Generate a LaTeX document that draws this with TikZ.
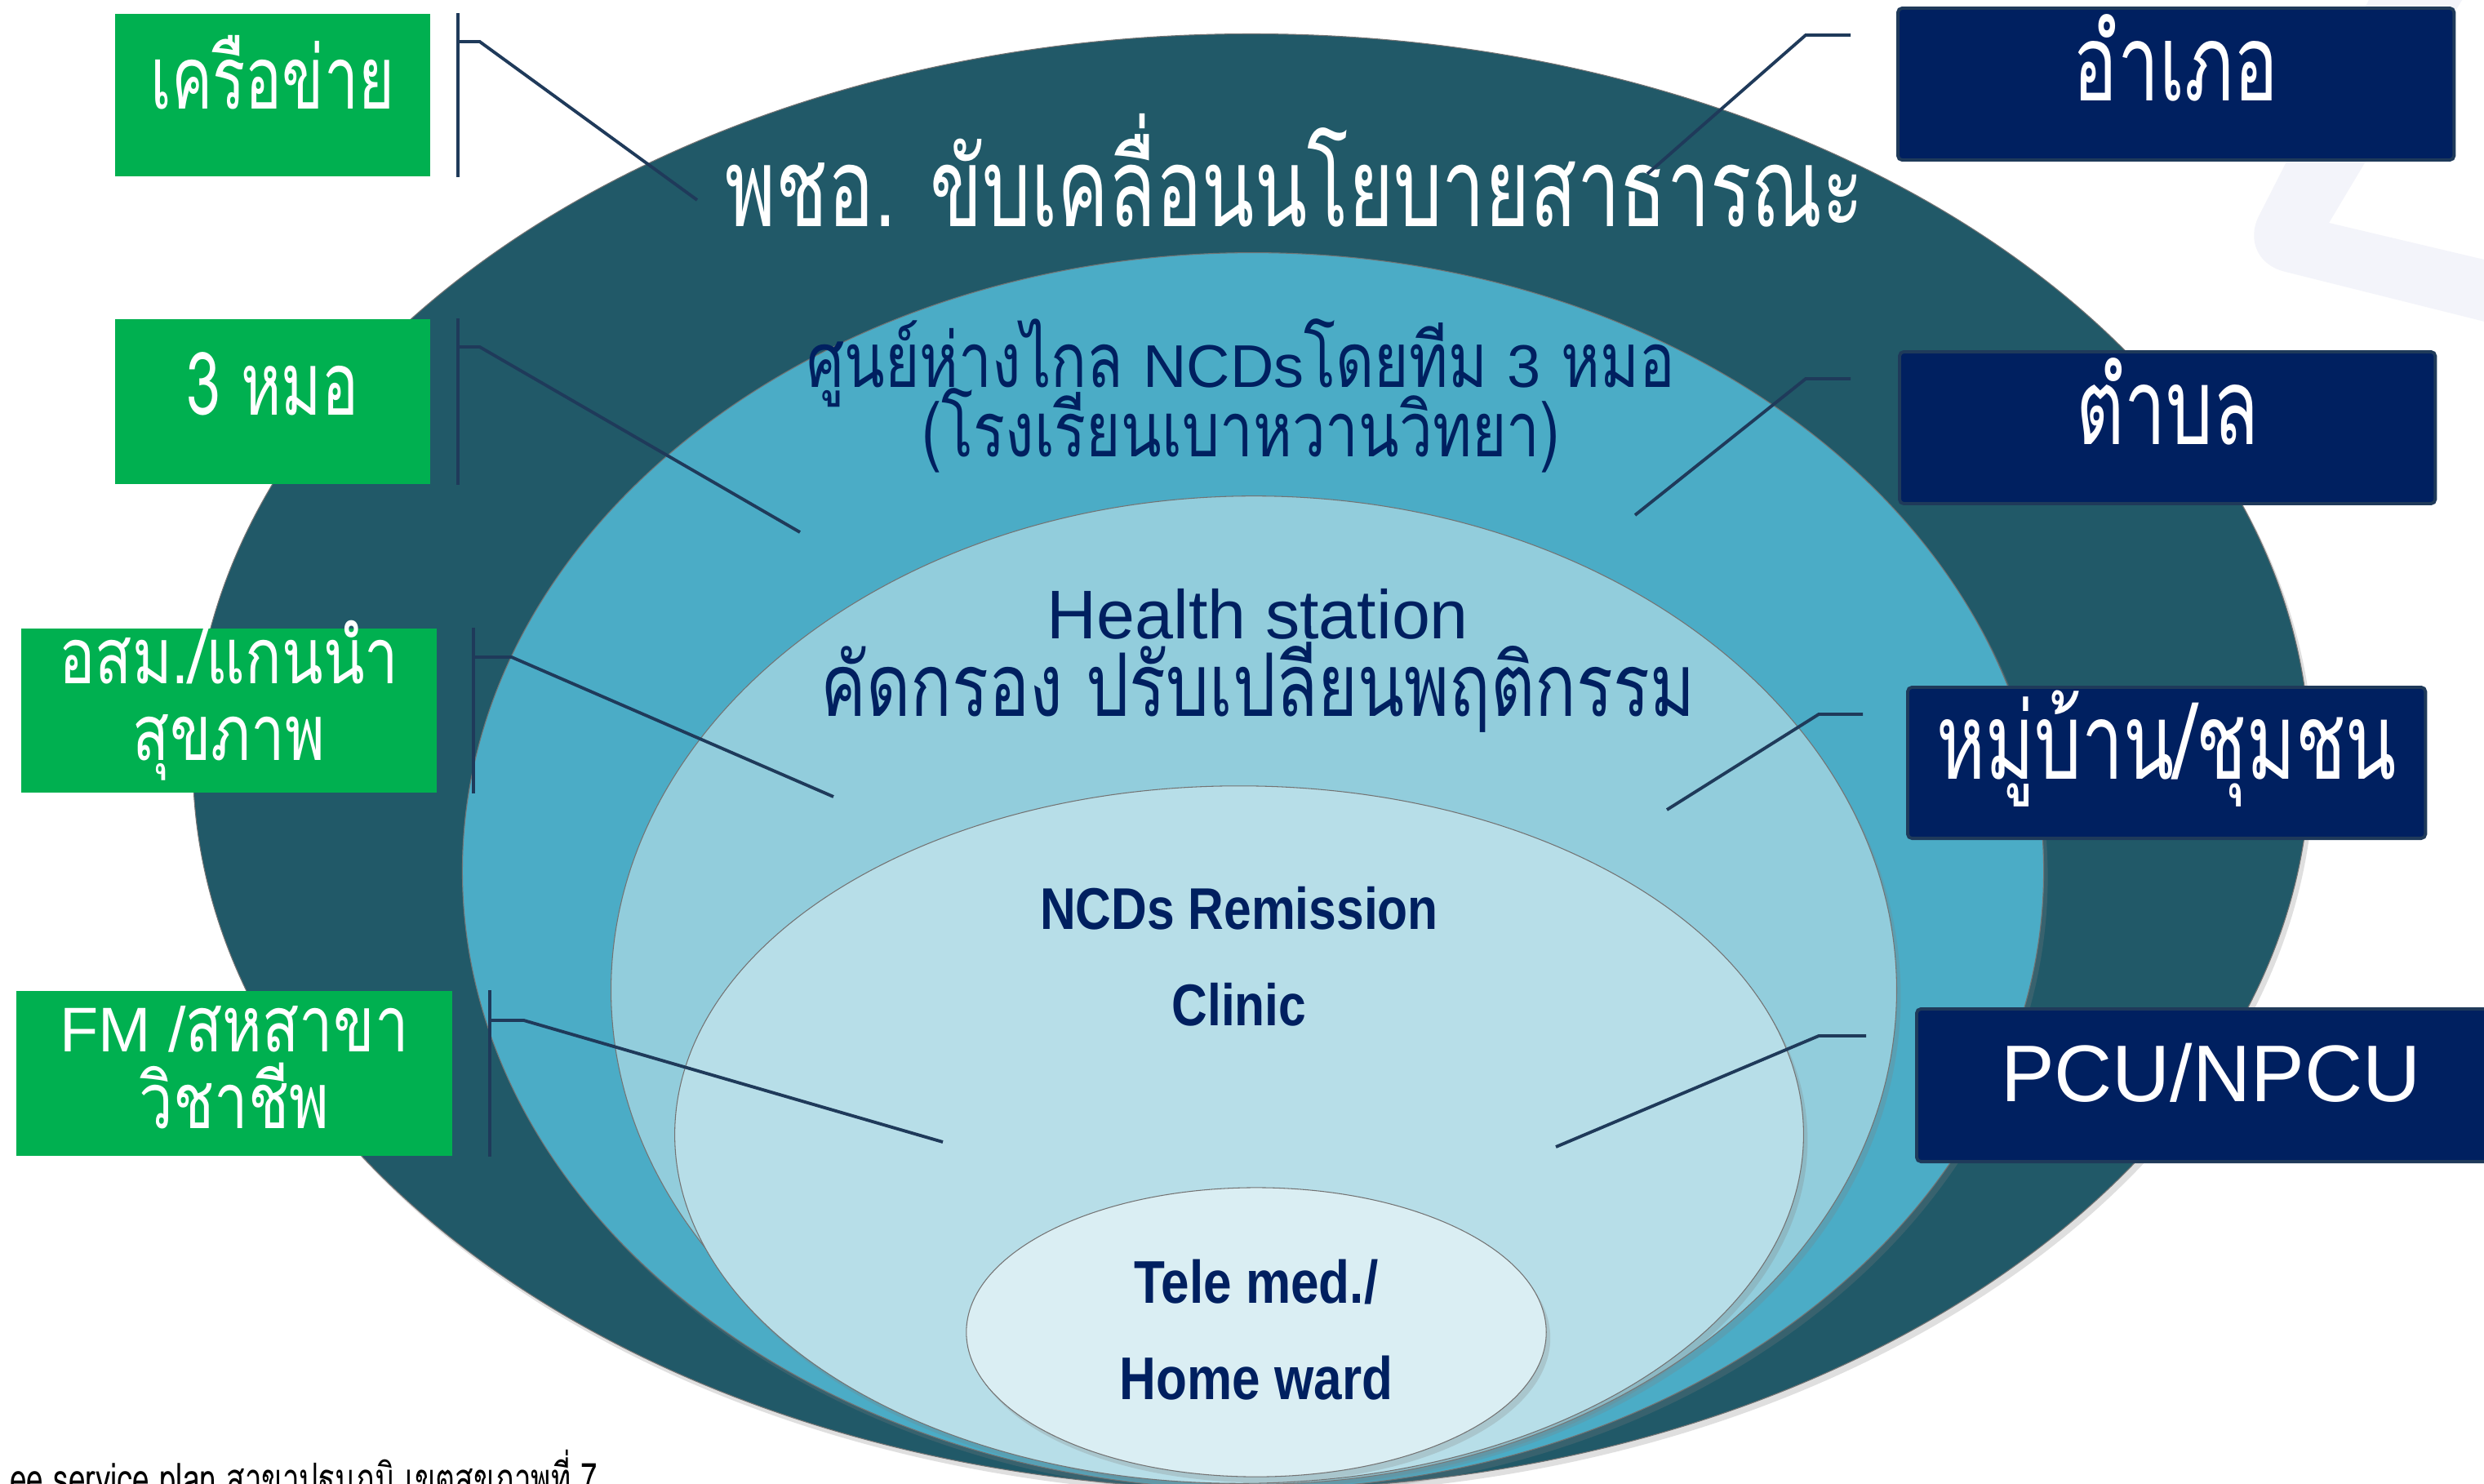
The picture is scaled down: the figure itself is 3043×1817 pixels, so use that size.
\documentclass[tikz,border=0pt]{standalone}
\usepackage{fontspec}
\setmainfont{Liberation Sans}
\newfontfamily\thai[Script=Thai,FakeStretch=0.7]{Loma}
\newfontfamily\thaibody[Script=Thai,FakeStretch=0.78]{Loma}
\newfontfamily\narrow[FakeStretch=0.84]{Liberation Sans}
\usetikzlibrary{shapes.geometric,positioning,shadows}
\setlength{\lineskiplimit}{-100pt}
% latin words inside a thai line
\newcommand\latn[2]{{\normalfont\fontsize{#1}{#1}\selectfont #2}}

\definecolor{deepteal}{HTML}{215968}
\definecolor{aqua}{HTML}{4BACC6}
\definecolor{aqualight}{HTML}{92CDDC}
\definecolor{aquapale}{HTML}{B7DEE8}
\definecolor{aquamist}{HTML}{DAEEF3}
\definecolor{leafgreen}{HTML}{00B050}
\definecolor{navy}{HTML}{002060}
\definecolor{linkblue}{HTML}{1F3A5A}
\definecolor{ghost}{HTML}{F3F4FA}

\tikzstyle{ring} = [ellipse, inner sep=0pt, draw=black!55, line width=0.3pt, drop shadow={opacity=0.25, shadow xshift=0.5mm, shadow yshift=-0.7mm}]
\tikzstyle{tag} = [rectangle, anchor=north west, inner sep=0pt, fill=leafgreen, text=white, align=center, font=\thai\fontsize{30.5pt}{26.7pt}\selectfont]
\tikzstyle{twoline} = [font=\thaibody\fontsize{27pt}{26.7pt}\selectfont]
\tikzstyle{unit} = [rectangle, anchor=north west, inner sep=0pt, fill=navy, draw=linkblue, line width=1.1pt, rounded corners=1.5pt, text=white, text height=0.8cm, text depth=0.4cm, font=\thai\fontsize{37pt}{44pt}\selectfont]
\tikzstyle{oneline} = [text height=0.74cm, text depth=0.4cm]
\tikzstyle{lbl} = [anchor=base, align=center, text=navy]
\tikzstyle{link} = [draw=linkblue, line width=1.1pt]

\begin{document}
\begin{tikzpicture}[x=0.01cm, y=-0.01cm]
\clip (0,0) rectangle (3043,1817);
\fill[white] (0,0) rectangle (3043,1817);
% pale chevron behind the right column
\fill[ghost] (2907,-10) [rounded corners=6mm] -- (2740,318) [sharp corners] -- (3060,398) -- (3060,322) -- (2853,273) -- (3022,-10) -- cycle;

% nested levels, outermost first
\node[ring, fill=deepteal, minimum width=25.92cm, minimum height=17.82cm] (outer) at (1533,933) {};
\node[ring, fill=aqua, minimum width=19.36cm, minimum height=15.14cm] (team) at (1535,1067) {};
\node[ring, fill=aqualight, minimum width=15.74cm, minimum height=12.10cm] (station) at (1536,1213) {};
\node[ring, fill=aquapale, minimum width=13.82cm, minimum height=8.54cm] (clinic) at (1518,1390) {};
\node[ring, fill=aquamist, minimum width=7.10cm, minimum height=3.54cm] (home) at (1539,1632) {};

% texts, anchored on the baseline of their last line
\node[anchor=base, text=white, font=\thai\fontsize{38.2pt}{46pt}\selectfont] (policy) at (1586,277) {พชอ. ขับเคลื่อนนโยบายสาธารณะ};
\node[lbl, font=\thaibody\fontsize{26.5pt}{23.9pt}\selectfont] (teamtext) at (1520,559) {ศูนย์ห่างไกล \latn{21pt}{NCDs}โดยทีม \latn{21pt}{3} หมอ\\(โรงเรียนเบาหวานวิทยา)};
\node[lbl, font=\thaibody\fontsize{30.5pt}{27pt}\selectfont] (stationtext) at (1541,877) {\latn{24pt}{Health station}\\คัดกรอง ปรับเปลี่ยนพฤติกรรม};
\node[lbl, font=\narrow\bfseries\fontsize{20.5pt}{33.3pt}\selectfont] (clinictext) at (1518,1256) {NCDs Remission\\Clinic};
\node[lbl, font=\narrow\bfseries\fontsize{21pt}{33.3pt}\selectfont] (hometext) at (1539,1714) {Tele med./\\Home ward};

\node[anchor=base west, font=\thai\fontsize{15pt}{17pt}\selectfont] (source) at (0,1830) {ee service plan สาขาปฐมภูมิ เขตสุขภาพที่ 7};

% partners on the left
\node[tag, oneline, minimum width=3.86cm, minimum height=1.99cm] (g1) at (140,16) {เครือข่าย};
\node[tag, oneline, minimum width=3.86cm, minimum height=2.02cm] (g2) at (140,390) {3 หมอ};
\node[tag, twoline, text height=1.5cm, text depth=0.27cm, minimum width=5.09cm, minimum height=2.01cm] (g3) at (25,769) {อสม./แกนนำ\\สุขภาพ};
\node[tag, twoline, text height=1.6cm, text depth=0.24cm, minimum width=5.34cm, minimum height=2.02cm] (g4) at (19,1213) {\latn{22pt}{FM /}สหสาขา\\วิชาชีพ};

% levels on the right
\node[unit, minimum width=6.81cm, minimum height=1.86cm] (r1) at (2323,8) {อำเภอ};
\node[unit, minimum width=6.56cm, minimum height=1.86cm] (r2) at (2325,429) {ตำบล};
\node[unit, minimum width=6.34cm, minimum height=1.85cm] (r3) at (2335,840) {หมู่บ้าน/ชุมชน};
\node[unit, minimum width=7.20cm, minimum height=1.87cm] (r4) at (2346,1234) {\latn{28pt}{PCU/NPCU}};

\coordinate (p1) at (854,245);
\coordinate (p2) at (980,652);
\coordinate (p3) at (1021,976);
\coordinate (p4) at (1155,1399);
\coordinate (q1) at (2018,213);
\coordinate (q2) at (2003,631);
\coordinate (q3) at (2042,992);
\coordinate (q4) at (1906,1405);

% brackets and pointers
\draw[link] ([xshift=0.33cm]g1.north east) -- ([xshift=0.33cm]g1.south east);
\draw[link] ([shift={(33,35)}]g1.north east) -- ++(27,0) -- (p1);
\draw[link] ([xshift=0.33cm]g2.north east) -- ([xshift=0.33cm]g2.south east);
\draw[link] ([shift={(33,35)}]g2.north east) -- ++(27,0) -- (p2);
\draw[link] ([xshift=0.44cm]g3.north east) -- ([xshift=0.44cm]g3.south east);
\draw[link] ([shift={(44,36)}]g3.north east) -- ++(47,0) -- (p3);
\draw[link] ([xshift=0.45cm]g4.north east) -- ([xshift=0.45cm]g4.south east);
\draw[link] ([shift={(45,37)}]g4.north east) -- ++(42,0) -- (p4);

\draw[link] ([shift={(-56,35)}]r1.north west) -- ++(-55,0) -- (q1);
\draw[link] ([shift={(-58,35)}]r2.north west) -- ++(-55,0) -- (q2);
\draw[link] ([shift={(-53,35)}]r3.north west) -- ++(-54,0) -- (q3);
\draw[link] ([shift={(-60,35)}]r4.north west) -- ++(-58,0) -- (q4);
\end{tikzpicture}
\end{document}
